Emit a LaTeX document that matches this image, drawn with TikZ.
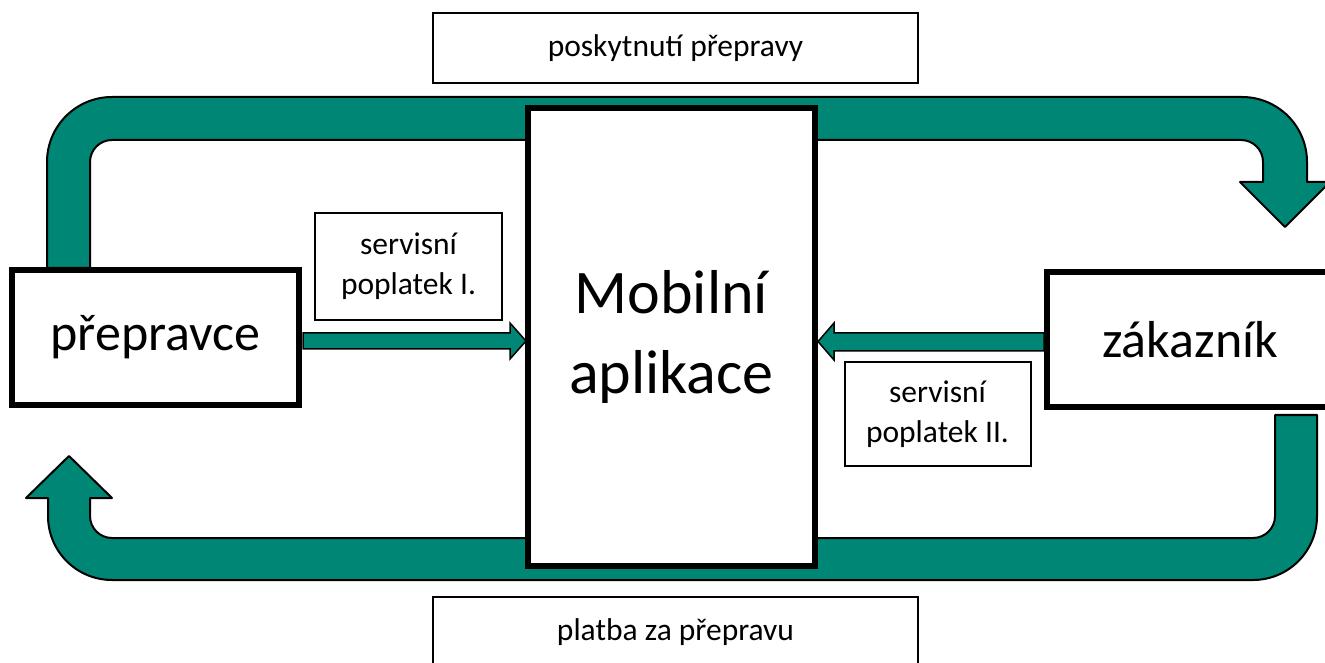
\documentclass[tikz,border=0pt]{standalone}
\usepackage{fontspec}
\setmainfont{Carlito}
\usepackage{xcolor}
\definecolor{flowteal}{RGB}{0,134,116}

\begin{document}
\begin{tikzpicture}[x=1pt, y=1pt,
    band/.style={fill=flowteal, draw=black, line width=2pt, line join=round},
    thinband/.style={fill=flowteal, draw=black, line width=1.5pt},
    party/.style={draw=black, fill=white, line width=6pt, inner sep=0pt,
      minimum width=287pt, minimum height=135pt, font=\fontsize{52}{62}\selectfont},
    tagbox/.style={draw=black, fill=white, line width=2pt, inner sep=0pt,
      align=center, font=\fontsize{31.5}{40}\selectfont}]
  \useasboundingbox (0,0) rectangle (1325,662);

  \draw[band] (47,394) -- (47,500) arc (180:90:65pt) -- (1242,565) arc (90:0:65pt)
    -- (1307,480) -- (1330,480) -- (1285,435) -- (1240,480) -- (1263,480)
    -- (1263,500) arc (0:90:22pt) -- (112,522) arc (90:180:22pt) -- (90,394) -- cycle;

  \draw[band] (1317,247) -- (1317,146) arc (0:-90:64pt) -- (112,82) arc (270:180:64pt)
    -- (48,164) -- (26,164) -- (69,206) -- (112,164) -- (90,164)
    -- (90,146) arc (180:270:22pt) -- (1253,124) arc (270:360:22pt) -- (1275,247) -- cycle;

  \draw[thinband] (303,329) -- (510,329) -- (510,339) -- (526,321) -- (510,303) -- (510,313) -- (303,313) -- cycle;
  \draw[thinband] (1044,329) -- (834,329) -- (834,339) -- (818,320.5) -- (834,302) -- (834,311) -- (1044,311) -- cycle;

  \node[party] (carrier) at (155.5,324.5) {přepravce};
  \node[party] (customer) at (1190,322) {zákazník};
  \node[party, minimum height=458pt, align=center, font=\fontsize{62}{80}\selectfont] (app) at (671.5,325) {Mobilní\\aplikace};

  \node[tagbox, minimum width=485pt, minimum height=70pt] (ride) at (675.5,614) {poskytnutí přepravy};
  \node[tagbox, minimum width=485pt, minimum height=70pt] (pay) at (675.5,30) {platba za přepravu};
  \node[tagbox, minimum width=187pt, minimum height=107pt] (feeone) at (408.5,395.5) {servisní\\poplatek I.};
  \node[tagbox, minimum width=186pt, minimum height=104pt] (feetwo) at (937.5,248) {servisní\\poplatek II.};
\end{tikzpicture}
\end{document}
